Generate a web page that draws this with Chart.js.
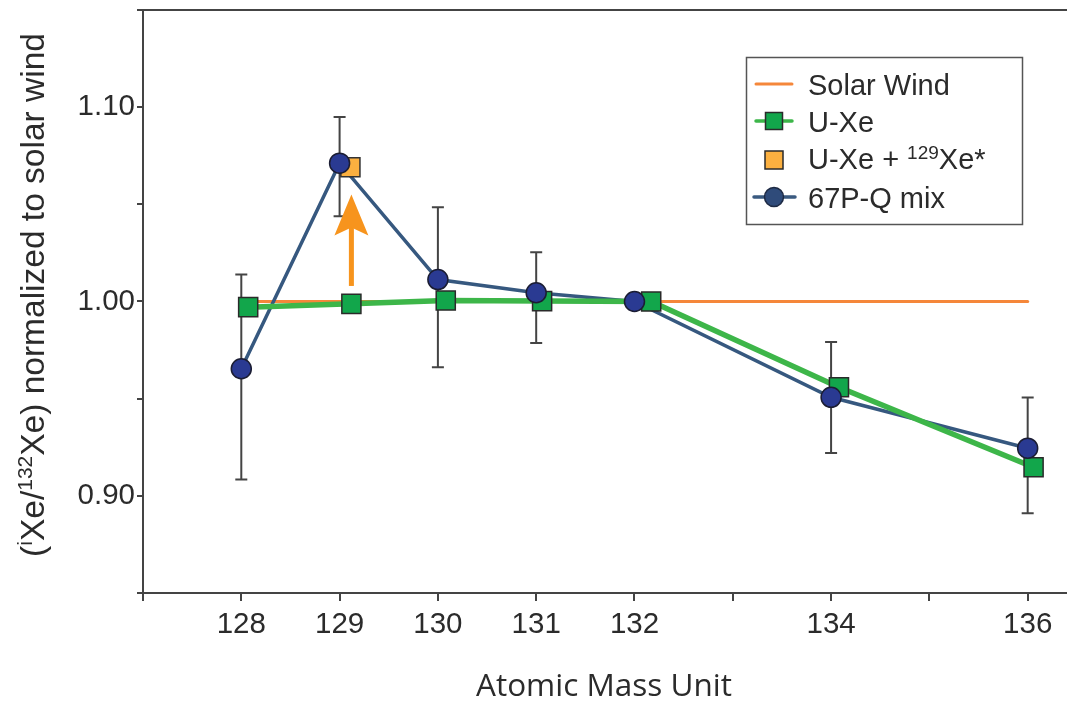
<!DOCTYPE html>
<html>
<head>
<meta charset="utf-8">
<script src="https://cdn.jsdelivr.net/npm/chart.js@4.4.1/dist/chart.umd.min.js"></script>
<style>
  html, body { margin: 0; padding: 0; background: #ffffff; }
  #c { display: block; }
</style>
</head>
<body>
<canvas id="c" width="1067" height="702"></canvas>
<script>
// Xenon isotope masses (atomic mass units)
const masses = [128, 129, 130, 131, 132, 134, 136];

// 67P-Q mix: ratio and error bar limits (132 is the normalising isotope)
const mixRatio = [0.9654, 1.0712, 1.0113, 1.0045, 1.0000, 0.9507, 0.9245];
const mixUpper = [1.0139, 1.0949, 1.0485, 1.0254, null, 0.9791, 0.9506];
const mixLower = [0.9084, 1.0439, 0.9662, 0.9787, null, 0.9221, 0.8910];

// U-Xe, plotted slightly to the right of each mass
const uxeMass  = [128.07, 129.12, 130.08, 131.06, 132.17, 134.08, 136.06];
const uxeRatio = [0.9971, 0.9988, 1.0005, 1.0002, 1.0000, 0.9559, 0.9147];

// U-Xe + fissiogenic/radiogenic 129Xe*
const uxe129Mass  = [129.11];
const uxe129Ratio = [1.0691];

// Solar wind reference level
const solarMass  = [128, 136];
const solarRatio = [1.0, 1.0];

// Arrow from U-Xe up to U-Xe + 129Xe*
const arrowMass = 129.12;
const arrowFrom = 1.008;
const arrowTo   = 1.055;

// Axis ticks
const xTickMarks   = [127, 128, 129, 130, 131, 132, 133, 134, 135, 136];
const xTickLabels  = [128, 129, 130, 131, 132, 134, 136];
const yTickMarks   = [0.85, 0.90, 0.95, 1.00, 1.05, 1.10, 1.15];
const yTickLabels  = [0.90, 1.00, 1.10];

// Texts (segments flagged true are superscripts)
const yTitle = [['(', false], ['i', true], ['Xe/', false], ['132', true], ['Xe) normalized to solar wind', false]];
const xTitle = 'Atomic Mass Unit';
const legendSolar = 'Solar Wind';
const legendUxe   = 'U-Xe';
const legendUxe129 = [['U-Xe + ', false], ['129', true], ['Xe*', false]];
const legendMix   = '67P-Q mix';

const AXIS = '#444444';
const TEXT = '#2b2b2b';
const C_SOLAR = '#f5873a';
const C_GREEN_LINE = '#3db649';
const C_GREEN_PT = '#12a64b';
const C_ORANGE_PT = '#fbb040';
const C_BLUE_LINE = '#36587f';
const C_BLUE_PT = '#2a3a92';
const C_ARROW = '#f7941d';

function pts(xs, ys) { return xs.map((x, i) => ({ x: x, y: ys[i] })); }
function near(a, b) { return Math.abs(a - b) < 1e-6; }

// Measures / draws a run of text with superscript parts
function richWidth(ctx, segs, size, supSize) {
  let w = 0;
  for (const [t, sup] of segs) {
    ctx.font = (sup ? supSize : size) + 'px "Liberation Sans", Arial, sans-serif';
    w += ctx.measureText(t).width;
  }
  return w;
}
function drawRich(ctx, segs, x, y, size, supSize, rise) {
  ctx.textBaseline = 'alphabetic';
  ctx.textAlign = 'left';
  for (const [t, sup] of segs) {
    ctx.font = (sup ? supSize : size) + 'px "Liberation Sans", Arial, sans-serif';
    ctx.fillText(t, x, sup ? y - rise : y);
    x += ctx.measureText(t).width;
  }
}

const errorBars = {
  id: 'errorBars',
  beforeDatasetsDraw(chart) {
    const { ctx, scales: { x, y } } = chart;
    ctx.save();
    ctx.strokeStyle = AXIS;
    ctx.lineWidth = 2;
    masses.forEach((m, i) => {
      if (mixUpper[i] == null) return;
      const px = x.getPixelForValue(m);
      const yt = y.getPixelForValue(mixUpper[i]);
      const yb = y.getPixelForValue(mixLower[i]);
      ctx.beginPath();
      ctx.moveTo(px, yt); ctx.lineTo(px, yb);
      ctx.moveTo(px - 6, yt); ctx.lineTo(px + 6, yt);
      ctx.moveTo(px - 6, yb); ctx.lineTo(px + 6, yb);
      ctx.stroke();
    });
    ctx.restore();
  }
};

const decorations = {
  id: 'decorations',
  afterDatasetsDraw(chart) {
    const { ctx, scales: { x, y } } = chart;
    // upward arrow
    const ax = x.getPixelForValue(arrowMass);
    const y0 = y.getPixelForValue(arrowFrom);
    const y1 = y.getPixelForValue(arrowTo);
    const headH = 41, headW = 34, notch = 8;
    ctx.save();
    ctx.fillStyle = C_ARROW;
    ctx.fillRect(ax - 2.5, y1 + headH - notch - 1, 5, y0 - (y1 + headH - notch - 1));
    ctx.beginPath();
    ctx.moveTo(ax, y1);
    ctx.lineTo(ax + headW / 2, y1 + headH);
    ctx.lineTo(ax, y1 + headH - notch);
    ctx.lineTo(ax - headW / 2, y1 + headH);
    ctx.closePath();
    ctx.fill();
    ctx.restore();
  },
  afterDraw(chart) {
    const { ctx, chartArea } = chart;
    ctx.save();
    // top frame line
    ctx.strokeStyle = AXIS;
    ctx.lineWidth = 2;
    ctx.beginPath();
    ctx.moveTo(chartArea.left, chartArea.top);
    ctx.lineTo(chart.width, chartArea.top);
    ctx.stroke();

    ctx.fillStyle = TEXT;
    // y-axis title, rotated
    ctx.save();
    ctx.translate(44, 295);
    ctx.rotate(-Math.PI / 2);
    const tw = richWidth(ctx, yTitle, 33.5, 21);
    drawRich(ctx, yTitle, -tw / 2, 0, 33.5, 21, 12);
    ctx.restore();

    // x-axis title
    ctx.font = '31.5px "Open Sans", sans-serif';
    ctx.textAlign = 'center';
    ctx.textBaseline = 'alphabetic';
    ctx.fillText(xTitle, 604, 696);

    // legend
    const lx = 746, ly = 57, lw = 276, lh = 167;
    ctx.fillStyle = '#ffffff';
    ctx.fillRect(lx, ly, lw, lh);
    ctx.strokeStyle = '#555555';
    ctx.lineWidth = 1.5;
    ctx.strokeRect(lx + 0.5, ly + 0.5, lw, lh);

    const tx = 808;
    const rows = [84, 121, 160, 197];
    // Solar Wind
    ctx.strokeStyle = C_SOLAR; ctx.lineWidth = 3; ctx.lineCap = 'round';
    ctx.beginPath(); ctx.moveTo(756, rows[0]); ctx.lineTo(792, rows[0]); ctx.stroke();
    // U-Xe
    ctx.strokeStyle = C_GREEN_LINE; ctx.lineWidth = 3.5;
    ctx.beginPath(); ctx.moveTo(756, rows[1]); ctx.lineTo(792, rows[1]); ctx.stroke();
    ctx.fillStyle = C_GREEN_PT; ctx.strokeStyle = '#2a2a2a'; ctx.lineWidth = 1.5;
    ctx.fillRect(765.5, rows[1] - 8.5, 17, 17); ctx.strokeRect(765.5, rows[1] - 8.5, 17, 17);
    // U-Xe + 129Xe*
    ctx.fillStyle = C_ORANGE_PT;
    ctx.fillRect(765, rows[2] - 9, 18, 18); ctx.strokeRect(765, rows[2] - 9, 18, 18);
    // 67P-Q mix
    ctx.strokeStyle = '#3a5a80'; ctx.lineWidth = 3.5;
    ctx.beginPath(); ctx.moveTo(754, rows[3]); ctx.lineTo(795, rows[3]); ctx.stroke();
    ctx.fillStyle = '#2f4b7a'; ctx.strokeStyle = '#1e2a44'; ctx.lineWidth = 1.5;
    ctx.beginPath(); ctx.arc(774, rows[3], 9.5, 0, Math.PI * 2); ctx.fill(); ctx.stroke();

    ctx.fillStyle = TEXT;
    ctx.font = '29px "Liberation Sans", Arial, sans-serif';
    ctx.textAlign = 'left';
    ctx.textBaseline = 'alphabetic';
    ctx.fillText(legendSolar, tx, 95);
    ctx.fillText(legendUxe, tx, 132);
    drawRich(ctx, legendUxe129, tx, 169, 29, 19, 10);
    ctx.font = '29px "Liberation Sans", Arial, sans-serif';
    ctx.fillText(legendMix, tx, 208);
    ctx.restore();
  }
};

function noPad(s) { s.paddingTop = 0; s.paddingBottom = 0; s.paddingLeft = 0; s.paddingRight = 0; }

new Chart(document.getElementById('c'), {
  type: 'line',
  data: {
    datasets: [
      { // 67P-Q markers on top
        data: pts(masses, mixRatio), showLine: false,
        pointStyle: 'circle', pointRadius: 10, pointHoverRadius: 10,
        pointBackgroundColor: C_BLUE_PT, pointBorderColor: '#1b1d33', pointBorderWidth: 1.5,
        order: 0
      },
      { // U-Xe + 129Xe*
        data: pts(uxe129Mass, uxe129Ratio), showLine: false,
        pointStyle: 'rect', pointRadius: 13.5, pointHoverRadius: 13.5,
        pointBackgroundColor: C_ORANGE_PT, pointBorderColor: '#333333', pointBorderWidth: 1.5,
        order: 1
      },
      { // U-Xe
        data: pts(uxeMass, uxeRatio), showLine: true,
        borderColor: C_GREEN_LINE, borderWidth: 5.5,
        pointStyle: 'rect', pointRadius: 13.5, pointHoverRadius: 13.5,
        pointBackgroundColor: C_GREEN_PT, pointBorderColor: '#2a2a2a', pointBorderWidth: 1.5,
        order: 2
      },
      { // 67P-Q connecting line
        data: pts(masses, mixRatio), showLine: true,
        borderColor: C_BLUE_LINE, borderWidth: 3.5, pointRadius: 0, pointHoverRadius: 0,
        order: 3
      },
      { // Solar wind
        data: pts(solarMass, solarRatio), showLine: true,
        borderColor: C_SOLAR, borderWidth: 3, pointRadius: 0, pointHoverRadius: 0,
        borderCapStyle: 'round',
        order: 4
      }
    ]
  },
  options: {
    responsive: false,
    animation: false,
    devicePixelRatio: 1,
    layout: { autoPadding: false, padding: { top: 10, right: 0, left: 0, bottom: 0 } },
    plugins: { legend: { display: false }, tooltip: { enabled: false } },
    elements: { line: { tension: 0, fill: false } },
    scales: {
      x: {
        type: 'linear', min: 127, max: 136.4,
        afterBuildTicks(s) { s.ticks = xTickMarks.map(v => ({ value: v })); },
        afterFit(s) { s.height = 109; noPad(s); },
        grid: { drawOnChartArea: false, drawTicks: true, tickLength: 8, color: AXIS, lineWidth: 2 },
        border: { display: true, color: AXIS, width: 2 },
        ticks: {
          autoSkip: false, maxRotation: 0, padding: 6,
          color: TEXT, font: { family: '"Liberation Sans", Arial, sans-serif', size: 29.5 },
          callback(v) { return xTickLabels.some(t => near(t, v)) ? String(v) : ''; }
        }
      },
      y: {
        type: 'linear', min: 0.85, max: 1.15,
        afterBuildTicks(s) { s.ticks = yTickMarks.map(v => ({ value: v })); },
        afterFit(s) { s.width = 143; noPad(s); },
        grid: { drawOnChartArea: false, drawTicks: true, tickLength: 6, color: AXIS, lineWidth: 2 },
        border: { display: true, color: AXIS, width: 2 },
        ticks: {
          autoSkip: false, padding: 2,
          color: TEXT, font: { family: '"Liberation Sans", Arial, sans-serif', size: 29.5 },
          callback(v) { return yTickLabels.some(t => near(t, v)) ? v.toFixed(2) : ''; }
        }
      }
    }
  },
  plugins: [errorBars, decorations]
});
</script>
</body>
</html>
